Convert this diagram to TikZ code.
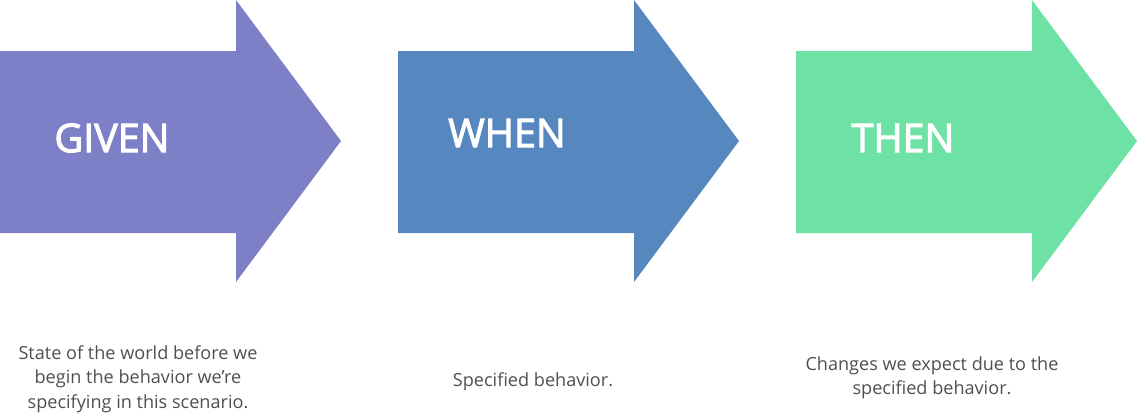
\documentclass[tikz,border=0pt]{standalone}
\usepackage{fontspec}
\setmainfont{Open Sans}
\newfontfamily\titlefont[FakeBold=2.5]{Open Sans}
\definecolor{givencol}{HTML}{7E80C7}
\definecolor{whencol}{HTML}{5688BF}
\definecolor{thencol}{HTML}{6EE1A5}
\definecolor{notecol}{HTML}{4F4F4F}
\tikzset{
  title/.style={text=white,font=\titlefont\fontsize{22.5}{26}\selectfont},
  note/.style={text=notecol,align=center,font=\fontsize{10.3}{13.9}\selectfont}
}
\begin{document}
\begin{tikzpicture}[x=0.02cm,y=-0.02cm]
      \useasboundingbox (0,0) rectangle (1137,414);
      \foreach \dx/\col in {0/givencol,398/whencol,796/thencol}
        \fill[\col,shift={(\dx,0)}] (0,51) -- (236,51) -- (236,0) -- (341,141) -- (236,282) -- (236,233) -- (0,233) -- cycle;
      \node[title] (given) at (112,138) {GIVEN};
      \node[title] (when) at (507,133) {WHEN};
      \node[title] (then) at (903,138) {THEN};
      \node[note] (givennote) at (138,379) {State of the world before we\\begin the behavior we’re\\specifying in this scenario.};
      \node[note] (whennote) at (533,382) {Specified behavior.};
      \node[note] (thennote) at (932,378) {Changes we expect due to the\\specified behavior.};
    \end{tikzpicture}
\end{document}
